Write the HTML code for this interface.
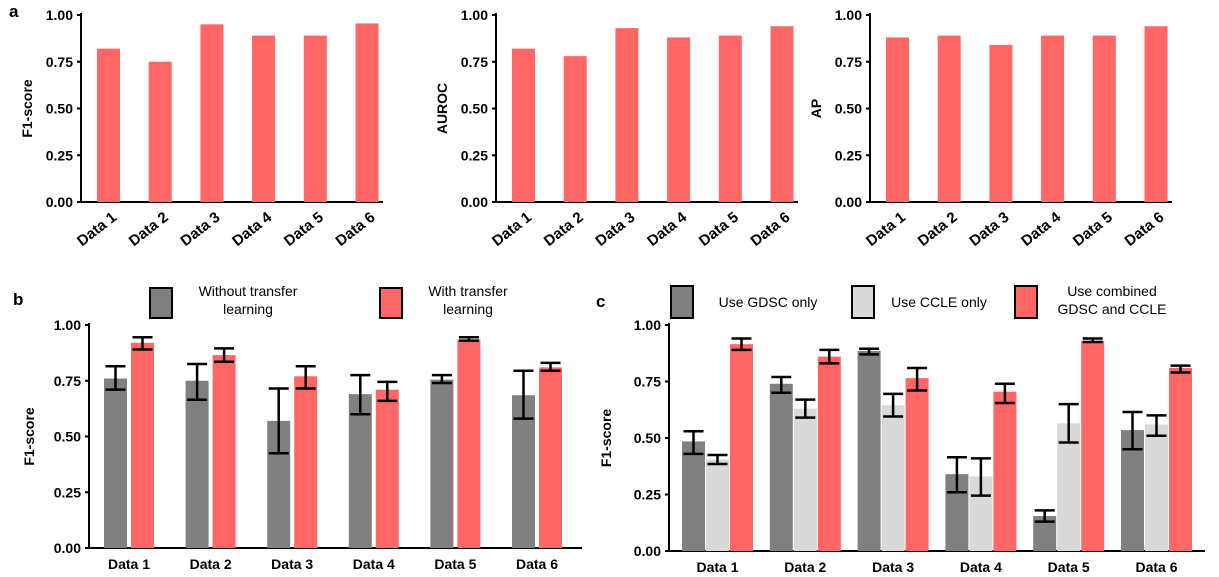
<!DOCTYPE html>
<html><head><meta charset="utf-8"><style>
body{margin:0;background:#fff}
svg{display:block;font-family:"Liberation Sans",Arial,sans-serif}
text{fill:#000}
</style></head><body>
<svg id="fig" width="1219" height="577" viewBox="0 0 1219 577"></svg>
<script>
const categories=["Data 1","Data 2","Data 3","Data 4","Data 5","Data 6"];
const aF1=[0.82,0.75,0.95,0.89,0.89,0.955];
const aAUROC=[0.82,0.78,0.93,0.88,0.89,0.94];
const aAP=[0.88,0.89,0.84,0.89,0.89,0.94];
const bWithout=[0.76,0.75,0.57,0.69,0.755,0.685];
const bWithoutLo=[0.71,0.665,0.425,0.6,0.74,0.58];
const bWithoutHi=[0.815,0.825,0.715,0.775,0.775,0.795];
const bWith=[0.92,0.865,0.77,0.71,0.935,0.81];
const bWithLo=[0.89,0.835,0.715,0.66,0.93,0.795];
const bWithHi=[0.945,0.895,0.815,0.745,0.945,0.83];
const cGDSC=[0.485,0.74,0.885,0.34,0.155,0.535];
const cGDSCLo=[0.43,0.70,0.87,0.26,0.13,0.45];
const cGDSCHi=[0.53,0.77,0.895,0.415,0.18,0.615];
const cCCLE=[0.405,0.63,0.645,0.33,0.565,0.56];
const cCCLELo=[0.385,0.59,0.595,0.245,0.48,0.51];
const cCCLEHi=[0.425,0.67,0.695,0.41,0.65,0.6];
const cComb=[0.915,0.86,0.765,0.705,0.93,0.81];
const cCombLo=[0.89,0.83,0.71,0.655,0.925,0.79];
const cCombHi=[0.94,0.89,0.81,0.74,0.94,0.82];
const yTicks=["0.00","0.25","0.50","0.75","1.00"];
const RED="#ff6666",GRAY="#808080",LIGHT="#d9d9d9";
const NS="http://www.w3.org/2000/svg";
const svg=document.getElementById('fig');
function el(tag,attrs,parent,txt){const e=document.createElementNS(NS,tag);for(const k in attrs)e.setAttribute(k,attrs[k]);if(txt!==undefined)e.textContent=txt;(parent||svg).appendChild(e);return e;}

function axes(g,x0,yTop,yBot,xEnd,title,name,titleOff){
  const y=v=>yBot-(yBot-yTop)*v;
  const ax=el('line',{x1:x0,y1:yTop-2,x2:x0,y2:yBot,stroke:'#000','stroke-width':2},g);
  
  const bx=el('line',{x1:x0,y1:yBot,x2:xEnd,y2:yBot,stroke:'#000','stroke-width':2},g);
  
  yTicks.forEach(t=>{const v=parseFloat(t);
    el('line',{x1:x0-4,y1:y(v),x2:x0,y2:y(v),stroke:'#000','stroke-width':2},g);
    const tl=el('text',{x:x0-8,y:y(v)+5,'text-anchor':'end','font-size':14,'font-weight':'bold'},g,t);
    
  });
  const yt=el('text',{transform:`translate(${x0-titleOff},${(yTop+yBot)/2}) rotate(-90)`,'text-anchor':'middle','font-size':14,'font-weight':'bold'},g,title);
  
  return y;
}
function errbar(g,cx,lo,hi,y,name){
  const e=el('g',{stroke:'#000','stroke-width':2.5},g);
  
  el('line',{x1:cx,y1:y(lo),x2:cx,y2:y(hi)},e);
  el('line',{x1:cx-10,y1:y(lo),x2:cx+10,y2:y(lo)},e);
  el('line',{x1:cx-10,y1:y(hi),x2:cx+10,y2:y(hi)},e);
}
// Panel a
function panelA(off,vals,title,name){
  const g=el('g',{},svg);
  
  const x0=81+off;
  const y=axes(g,x0,15,202,383+off,title,name,49);
  vals.forEach((v,i)=>{const cx=108.5+off+i*51.7;
    const r=el('rect',{x:cx-11.5,y:y(v),width:23,height:202-y(v),fill:RED},g);
    
    const t=el('text',{transform:`translate(${cx+9},${219}) rotate(-38)`,'text-anchor':'end','font-size':15,'font-weight':'bold'},g,categories[i]);
    
  });
}
const la=el('text',{x:9,y:17,'font-size':17,'font-weight':'bold'},svg,'a');

panelA(0,aF1,'F1-score','chart-a-f1');
panelA(415,aAUROC,'AUROC','chart-a-auroc');
panelA(789,aAP,'AP','chart-a-ap');

// Panel b
(function(){
  const g=el('g',{},svg);
  
  const lb=el('text',{x:13,y:305,'font-size':17,'font-weight':'bold'},svg,'b');
  
  const y=axes(g,89,325,548,582,'F1-score','chart-b',55);
  const centers0=129,step=81.6;
  categories.forEach((c,i)=>{const cx=centers0+i*step;
    const r1=el('rect',{x:cx-25,y:y(bWithout[i]),width:23,height:548-y(bWithout[i]),fill:GRAY},g);
    
    const r2=el('rect',{x:cx+2,y:y(bWith[i]),width:23,height:548-y(bWith[i]),fill:RED},g);
    
    errbar(g,cx-13.5,bWithoutLo[i],bWithoutHi[i],y,'errbar-without-'+(i+1));
    errbar(g,cx+13.5,bWithLo[i],bWithHi[i],y,'errbar-with-'+(i+1));
    const t=el('text',{x:cx,y:569,'text-anchor':'middle','font-size':14,'font-weight':'bold'},g,c);
    
  });
  const l1=el('g',{},g);
  el('rect',{x:150,y:288,width:22,height:30,fill:GRAY,stroke:'#000','stroke-width':2},l1);
  el('text',{x:248,y:296,'text-anchor':'middle','font-size':14},l1,'Without transfer');
  el('text',{x:248,y:314,'text-anchor':'middle','font-size':14},l1,'learning');
  const l2=el('g',{},g);
  el('rect',{x:380,y:288,width:22,height:30,fill:RED,stroke:'#000','stroke-width':2},l2);
  el('text',{x:468,y:296,'text-anchor':'middle','font-size':14},l2,'With transfer');
  el('text',{x:468,y:314,'text-anchor':'middle','font-size':14},l2,'learning');
})();

// Panel c
(function(){
  const g=el('g',{},svg);
  
  const lc=el('text',{x:596,y:307,'font-size':17,'font-weight':'bold'},svg,'c');
  
  const y=axes(g,669,325,551,1205,'F1-score','chart-c',58);
  const c0=717.5,step=87.8;
  const series=[[cGDSC,cGDSCLo,cGDSCHi,GRAY,'gdsc'],[cCCLE,cCCLELo,cCCLEHi,LIGHT,'ccle'],[cComb,cCombLo,cCombHi,RED,'combined']];
  categories.forEach((c,i)=>{const cx=c0+i*step;
    series.forEach((s,j)=>{const bx=cx-35.5+j*24;
      const r=el('rect',{x:bx,y:y(s[0][i]),width:23,height:551-y(s[0][i]),fill:s[3]},g);
      
    });
    series.forEach((s,j)=>{errbar(g,cx-24+j*24,s[1][i],s[2][i],y,'errbar-'+s[4]+'-'+(i+1));});
    const t=el('text',{x:cx,y:572,'text-anchor':'middle','font-size':14,'font-weight':'bold'},g,c);
    
  });
  const L=[[671,GRAY,['Use GDSC only'],768,'legend-gdsc'],[852,LIGHT,['Use CCLE only'],939,'legend-ccle'],[1015,RED,['Use combined','GDSC and CCLE'],1112,'legend-combined']];
  L.forEach(l=>{const lg=el('g',{},g);
    
    el('rect',{x:l[0],y:286,width:22,height:32,fill:l[1],stroke:'#000','stroke-width':2},lg);
    if(l[2].length===1) el('text',{x:l[3],y:307,'text-anchor':'middle','font-size':14},lg,l[2][0]);
    else {el('text',{x:l[3],y:296,'text-anchor':'middle','font-size':14},lg,l[2][0]);
          el('text',{x:l[3],y:314,'text-anchor':'middle','font-size':14},lg,l[2][1]);}
  });
})();
</script>
</body></html>
